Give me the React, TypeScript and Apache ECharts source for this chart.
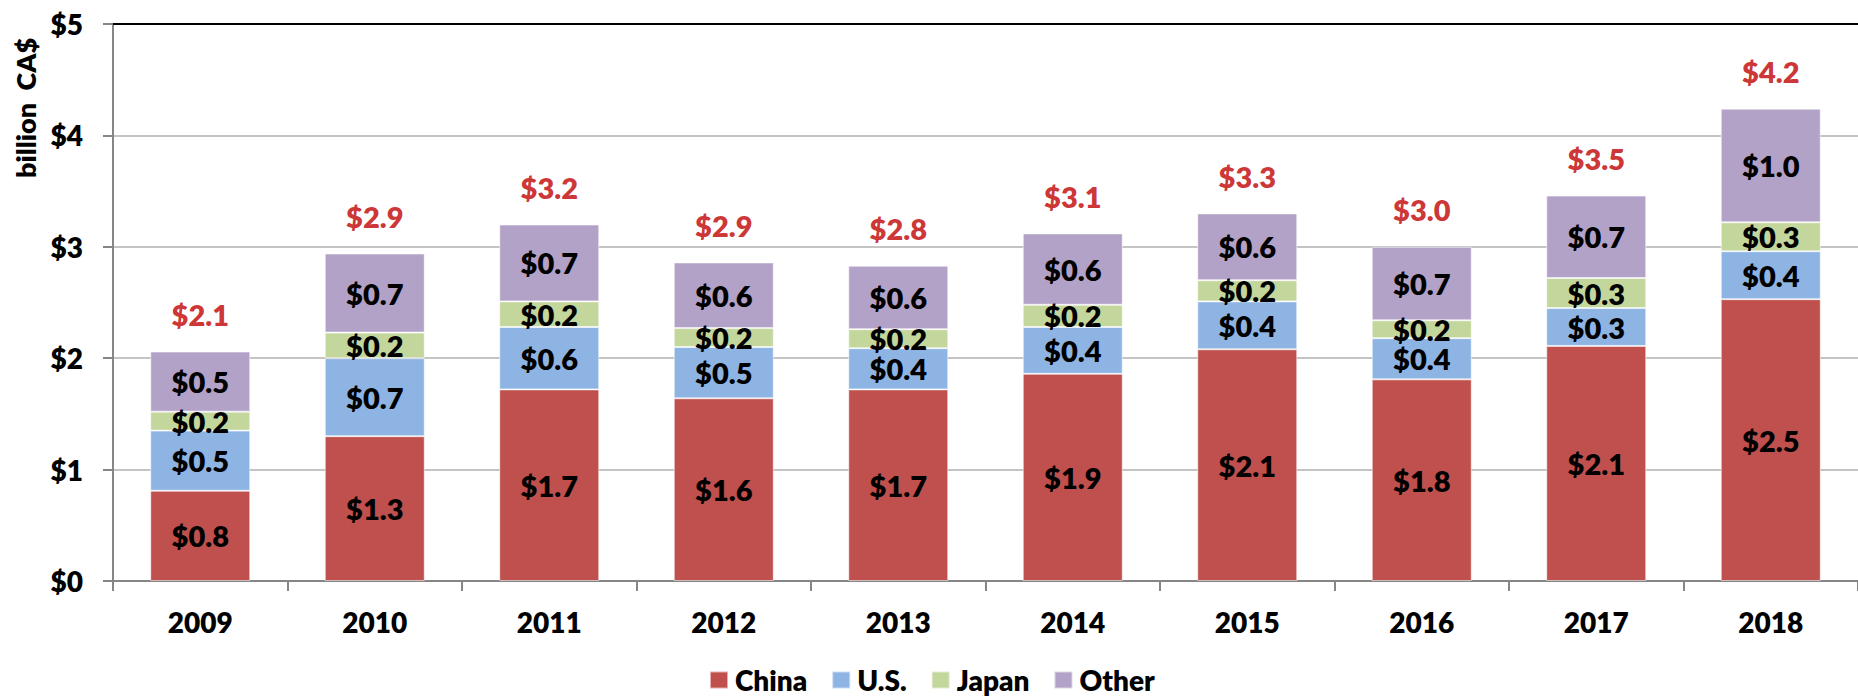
import React, { useEffect, useRef } from "react";
import * as echarts from "echarts";

const years = ["2009", "2010", "2011", "2012", "2013", "2014", "2015", "2016", "2017", "2018"];
const china = [0.81, 1.3, 1.72, 1.64, 1.72, 1.86, 2.08, 1.81, 2.11, 2.53];
const us = [0.54, 0.7, 0.56, 0.46, 0.37, 0.42, 0.43, 0.37, 0.34, 0.43];
const japan = [0.17, 0.23, 0.23, 0.17, 0.17, 0.2, 0.19, 0.16, 0.27, 0.26];
const other = [0.54, 0.71, 0.69, 0.59, 0.57, 0.64, 0.6, 0.66, 0.74, 1.02];
const yTicks = [0, 1, 2, 3, 4, 5];

const seriesNames = ["China", "U.S.", "Japan", "Other"];
const seriesColors = ["#C0504D", "#8EB4E3", "#C3D69B", "#B3A2C7"];

const FONT = "Lato";
const W = 800;

export default function App() {
  const ref = useRef<HTMLDivElement>(null);

  useEffect(() => {
    if (!ref.current) return;
    const chart = echarts.init(ref.current, undefined, { renderer: "svg" });
    const totals = years.map((_, i) => china[i] + us[i] + japan[i] + other[i]);
    const data = [china, us, japan, other];

    const barSeries = seriesNames.map((name, k) => ({
      name,
      type: "bar",
      stack: "total",
      barWidth: 100,
      data: data[k],
      itemStyle: {
        color: seriesColors[k],
        borderColor: "rgba(255,255,255,0.55)",
        borderWidth: 1,
      },
      label: {
        show: true,
        position: "inside",
        color: "#000",
        fontFamily: FONT,
        fontWeight: W,
        fontSize: 29,
        formatter: (p: any) => "$" + Number(p.value).toFixed(1),
      },
    }));

    chart.setOption({
      animation: false,
      textStyle: { fontFamily: FONT },
      grid: { left: 113, right: -9, top: 24, bottom: 117, containLabel: false },
      legend: {
        data: seriesNames,
        left: 709,
        top: 666,
        padding: 0,
        icon: "rect",
        itemWidth: 18,
        itemHeight: 17,
        itemGap: 24,
        textStyle: {
          fontFamily: FONT,
          fontWeight: W,
          fontSize: 28,
          lineHeight: 28,
          color: "#000",
          padding: [0, 0, 0, 2],
        },
      },
      xAxis: [
        {
          type: "category",
          data: years,
          axisLine: { lineStyle: { color: "#868686", width: 2 } },
          axisTick: { show: true, length: 10, lineStyle: { color: "#868686", width: 2 } },
          axisLabel: {
            color: "#000",
            fontFamily: FONT,
            fontWeight: W,
            fontSize: 28,
            margin: 27,
          },
        },
        {
          type: "category",
          position: "top",
          data: years,
          axisLine: { lineStyle: { color: "#000", width: 2 } },
          axisTick: { show: false },
          axisLabel: { show: false },
        },
      ],
      yAxis: {
        type: "value",
        min: yTicks[0],
        max: yTicks[yTicks.length - 1],
        interval: 1,
        axisLine: { show: true, lineStyle: { color: "#868686", width: 2 } },
        axisTick: { show: true, length: 10, lineStyle: { color: "#868686", width: 2 } },
        splitLine: { show: true, lineStyle: { color: "#C4C4C4", width: 2 } },
        axisLabel: {
          color: "#000",
          fontFamily: FONT,
          fontWeight: W,
          fontSize: 28,
          margin: 30,
          formatter: (v: number) => "$" + v,
        },
      },
      graphic: [
        {
          type: "text",
          x: 25,
          y: 108,
          rotation: Math.PI / 2,
          style: {
            text: "billion  CA$",
            fontFamily: FONT,
            fontWeight: W,
            fontSize: 27,
            fill: "#000",
            align: "center",
            verticalAlign: "middle",
          },
        },
      ],
      series: [
        ...barSeries,
        {
          name: "Total",
          type: "scatter",
          data: totals,
          symbolSize: 1,
          itemStyle: { color: "rgba(0,0,0,0)" },
          label: {
            show: true,
            position: "top",
            distance: 22,
            color: "#C00000",
            fontFamily: FONT,
            fontWeight: W,
            fontSize: 29,
            formatter: (p: any) => "$" + Number(p.value).toFixed(1),
          },
          z: 5,
        },
      ],
    });

    return () => chart.dispose();
  }, []);

  return (
    <div
      ref={ref}
      style={{ position: "absolute", left: 0, top: 0, width: 1858, height: 698, overflow: "hidden" }}
    />
  );
}
